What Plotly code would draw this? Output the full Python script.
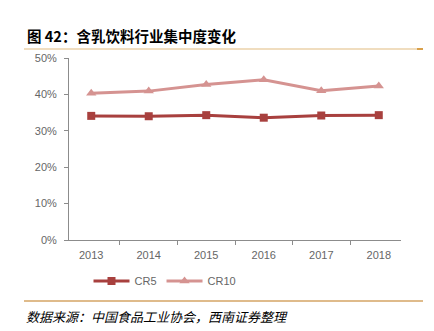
import plotly.graph_objects as go

years = ["2013", "2014", "2015", "2016", "2017", "2018"]
cr5 = [0.341, 0.340, 0.343, 0.336, 0.342, 0.343]
cr10 = [0.403, 0.409, 0.427, 0.440, 0.410, 0.423]

title_text = "图 42：含乳饮料行业集中度变化"
source_text = "数据来源：中国食品工业协会，西南证券整理"

fig = go.Figure()
fig.add_trace(go.Scatter(
    x=years, y=cr5, name="CR5", mode="lines+markers",
    line=dict(color="#A8403E", width=3),
    marker=dict(symbol="square", size=8, color="#A8403E"),
))
fig.add_trace(go.Scatter(
    x=years, y=cr10, name="CR10", mode="lines+markers",
    line=dict(color="#D59391", width=3),
    marker=dict(symbol="triangle-up", size=9, color="#D59391"),
))

W, H = 434, 331
ml, mr, mt, mb = 69, 33, 58, 91
pw, ph = W - ml - mr, H - mt - mb

def px(x):
    return (x - ml) / pw

def py(y):
    return (H - mb - y) / ph

fig.update_layout(
    width=W, height=H,
    margin=dict(l=ml, r=mr, t=mt, b=mb, pad=0),
    paper_bgcolor="white", plot_bgcolor="white",
    font=dict(family="Liberation Sans, Arial, sans-serif", size=11, color="#666666"),
    showlegend=True,
    legend=dict(orientation="h", x=px(165), xanchor="center", y=py(281), yanchor="middle",
                font=dict(size=11, color="#666666"), itemwidth=36, tracegroupgap=0),
    xaxis=dict(type="category", showgrid=False, showline=True, linecolor="#8C8C8C", linewidth=1,
               ticks="outside", ticklen=4, tickcolor="#8C8C8C", tickson="boundaries",
               ticklabelstandoff=5,
               tickfont=dict(size=11, color="#666666"), zeroline=False),
    yaxis=dict(range=[0, 0.5], dtick=0.1, tickformat=".0%", showgrid=False, showline=True,
               linecolor="#8C8C8C", linewidth=1, ticks="outside", ticklen=4, tickcolor="#8C8C8C",
               ticklabelstandoff=5,
               tickfont=dict(size=11, color="#666666"), zeroline=False),
)

fig.add_annotation(
    text="<b>" + title_text + "</b>", xref="paper", yref="paper",
    x=px(25), y=py(35), xanchor="left", yanchor="middle", showarrow=False,
    font=dict(family="Noto Sans CJK SC", size=14.5, color="#000000"),
)
fig.add_annotation(
    text="<i>" + source_text + "</i>", xref="paper", yref="paper",
    x=px(24), y=py(316), xanchor="left", yanchor="middle", showarrow=False,
    font=dict(family="Noto Sans CJK SC", size=13, color="#000000"),
)
fig.add_shape(type="line", xref="paper", yref="paper",
              x0=px(24), x1=px(423), y0=py(49), y1=py(49),
              line=dict(color="#F0DDBF", width=2))
fig.add_shape(type="line", xref="paper", yref="paper",
              x0=px(417), x1=px(423), y0=py(49), y1=py(49),
              line=dict(color="#D9A04A", width=2))
fig.add_shape(type="line", xref="paper", yref="paper",
              x0=px(24), x1=px(423), y0=py(301), y1=py(301),
              line=dict(color="#D4A464", width=1.5))

fig.write_html("out.html")
